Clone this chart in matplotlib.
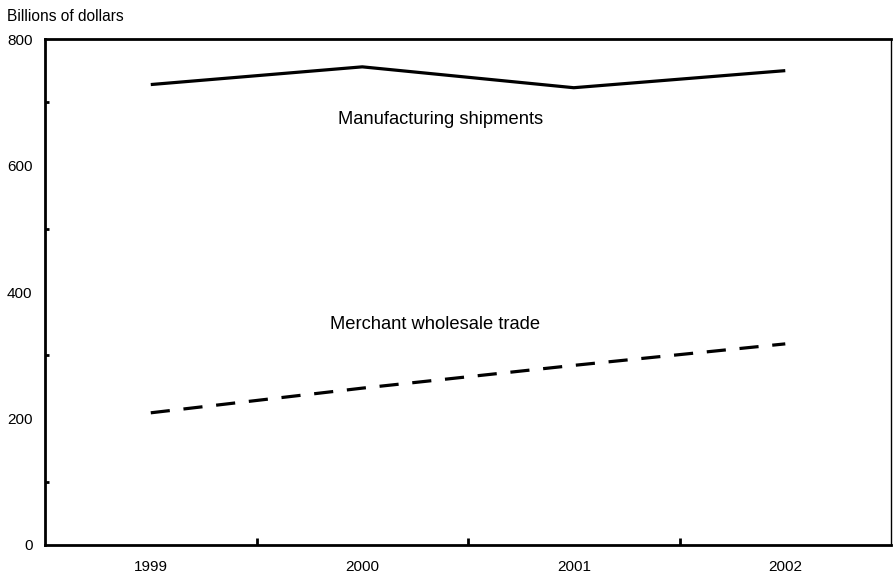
import numpy as np
import matplotlib.pyplot as plt

plt.rcParams['font.family'] = ['Liberation Sans', 'DejaVu Sans']

years = ['1999', '2000', '2001', '2002']
manufacturing = [728, 756, 723, 750]
wholesale = [209, 248, 284, 318]
y_ticks = [0, 200, 400, 600, 800]

fig = plt.figure(figsize=(8.93, 5.78), dpi=100)
ax = fig.add_axes([0.0504, 0.0571, 0.9474, 0.8754])

x = np.arange(len(years))
ax.plot(x, manufacturing, color='black', linewidth=2.3, solid_capstyle='butt')
ax.plot(x, wholesale, color='black', linewidth=2.3, dashes=(6, 4.3), dash_capstyle='butt')

ax.set_xlim(-0.5, 3.5)
ax.set_ylim(0, 800)

ax.set_xticks(x)
ax.set_xticklabels(years)
ax.set_xticks(x[:-1] + 0.5, minor=True)
ax.tick_params(axis='x', which='major', length=0, pad=11, labelsize=11)
ax.tick_params(axis='x', which='minor', direction='in', length=5, width=2)

ax.set_yticks(y_ticks)
ax.set_yticks([100, 300, 500, 700], minor=True)
ax.tick_params(axis='y', which='major', length=0, pad=9, labelsize=11)
ax.tick_params(axis='y', which='minor', direction='in', length=3, width=2)

for side in ['left', 'bottom', 'top']:
    ax.spines[side].set_linewidth(2)
ax.spines['right'].set_linewidth(1)

ax.text(1.368, 672, 'Manufacturing shipments', fontsize=13.2, ha='center', va='center')
ax.text(1.345, 349, 'Merchant wholesale trade', fontsize=13.2, ha='center', va='center')
fig.text(0.008, 0.972, 'Billions of dollars', fontsize=11.2, ha='left', va='center')

fig.savefig('out.png', dpi=100)
